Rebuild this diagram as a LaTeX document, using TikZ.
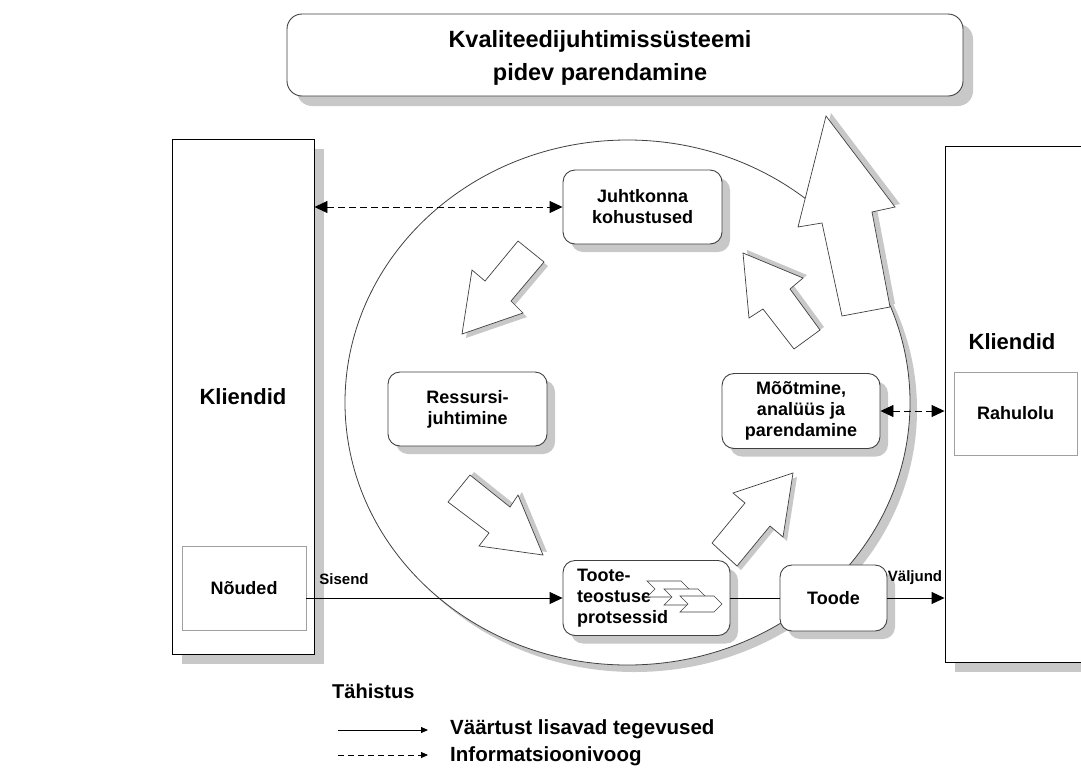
\documentclass[tikz,border=0pt]{standalone}
\usepackage{fontspec}
\setmainfont{Liberation Sans}
\usetikzlibrary{arrows.meta,shadows}
\definecolor{varjuhall}{RGB}{200,200,200}
\definecolor{joonhall}{RGB}{64,64,64}
\definecolor{raamhall}{RGB}{160,160,160}
\tikzset{
  tekst/.style={font=\bfseries\fontsize{18}{21}\selectfont},
  protsess/.style={tekst, draw=joonhall, fill=white, line width=0.9pt, rounded corners=12pt, align=center, minimum width=159pt, minimum height=74pt, inner sep=0pt, drop shadow={shadow xshift=8pt, shadow yshift=-8pt, fill=varjuhall, opacity=1}},
  klient/.style={draw=black, fill=white, line width=0.9pt, inner sep=0pt, font=\bfseries\fontsize{22}{26}\selectfont, drop shadow={shadow xshift=10pt, shadow yshift=-10pt, fill=varjuhall, opacity=1}},
  alamkast/.style={tekst, draw=raamhall, fill=white, line width=0.7pt, inner sep=0pt},
  vaartus/.style={line width=0.9pt, -{Triangle[length=13pt,width=12pt]}},
  info/.style={line width=0.9pt, dash pattern=on 7pt off 4pt, {Triangle[length=13pt,width=12pt]}-{Triangle[length=13pt,width=12pt]}},
  silt/.style={font=\bfseries\fontsize{15}{18}\selectfont, inner sep=0pt},
  legend/.style={font=\bfseries\fontsize{20.5}{24}\selectfont, inner sep=0pt, anchor=west},
}
\newcommand\plokknool[2]{%
  \fill[varjuhall, shift={#1}] #2 -- cycle;
  \draw[joonhall, fill=white, line width=0.7pt] #2 -- cycle;}
\newcommand\nooleke[1]{%
  \draw[joonhall, fill=white, line width=0.6pt, shift={#1}] (0,0) -- (34,0) -- (42,8) -- (34,16) -- (0,16) -- (8,8) -- cycle;}
\begin{document}
\begin{tikzpicture}[x=1pt, y=-1pt]
\useasboundingbox (0,0) rectangle (1081,769);
\clip (0,0) rectangle (1081,769);

\node[draw=joonhall, fill=white, line width=0.9pt, rounded corners=15pt, minimum width=676pt, minimum height=82pt, drop shadow={shadow xshift=10pt, shadow yshift=-10pt, fill=varjuhall, opacity=1}] (pealkiri) at (625,55) {};
\node[align=center, font=\bfseries\fontsize{23.5}{33}\selectfont] (pealkirjatekst) at (600,58) {Kvaliteedijuhtimissüsteemi\\pidev parendamine};

\fill[varjuhall] (634.5,409.5) ellipse [x radius=282.5, y radius=262.5];
\draw[joonhall, fill=white, line width=0.8pt] (627.5,402.5) ellipse [x radius=282.5, y radius=262.5];

\node[klient, minimum width=142pt, minimum height=515pt] (kliendidV) at (243,396.5) {Kliendid};
\node[alamkast, minimum width=124pt, minimum height=84pt] (noudmised) at (244,588) {Nõuded};
\node[klient, minimum width=155pt, minimum height=516pt] (kliendidP) at (1022.5,404) {};
\node[font=\bfseries\fontsize{22}{26}\selectfont] (kliendidPtekst) at (1012,342) {Kliendid};
\node[alamkast, minimum width=123pt, minimum height=83pt] (rahulolu) at (1015.5,413.5) {Rahulolu};

\plokknool{(4,4)}{(518,241) -- (544,262) -- (511,301) -- (523,313) -- (462,334) -- (472,270) -- (485,281)}
\plokknool{(4,-3)}{(470,475) -- (510,507) -- (518,495) -- (543,555) -- (479,546) -- (489,533) -- (448,502)}
\plokknool{(4,4)}{(793,473) -- (783,537) -- (770,526) -- (737,566) -- (712,543) -- (745,503) -- (733,493)}
\plokknool{(4,-3)}{(743,253) -- (803,278) -- (790,289) -- (820,330) -- (794,349) -- (763,309) -- (749,318)}
\plokknool{(5,-3)}{(826,116) -- (895,207) -- (872,212) -- (890,307) -- (842,316) -- (822,223) -- (798,227)}

\node[protsess] (juhtkond) at (642.5,207) {Juhtkonna\\kohustused};
\node[protsess] (ressurss) at (467.5,409) {Ressursi-\\juhtimine};
\node[protsess, minimum width=158pt, minimum height=75pt] (moot) at (801,411) {Mõõtmine,\\analüüs ja\\parendamine};
\node[protsess, minimum width=167pt, minimum height=75pt, align=left, text width=139pt, inner xsep=14pt] (teostus) at (646.5,598) {Toote-\\teostuse\\protsessid};
\node[protsess, minimum width=107pt, minimum height=66pt] (toode) at (833.5,598) {Toode};
\nooleke{(647,581)}
\nooleke{(664,589)}
\nooleke{(680,596)}

\draw[info] (kliendidV.east |- juhtkond.west) -- (juhtkond.west);
\draw[info] (moot.east) -- (moot.east -| kliendidP.west);
\draw[vaartus] (noudmised.east |- teostus.west) -- (teostus.west);
\draw[line width=0.9pt] (teostus.east) -- (toode.west);
\draw[vaartus] (toode.east) -- (toode.east -| kliendidP.west);
\node[silt] (sisend) at (344,579) {Sisend};
\node[silt] (valjund) at (915,578) {Väljund};

\node[legend, font=\bfseries\fontsize{20}{24}\selectfont] (tahistus) at (332,691) {Tähistus};
\node[legend] (vaartustekst) at (450,729) {Väärtust lisavad tegevused};
\node[legend] (infotekst) at (450,756) {Informatsioonivoog};
\coordinate (v1) at (338,730);
\coordinate (i1) at (338,755);
\draw[line width=0.8pt, -{Triangle[length=7pt,width=6pt]}] (v1) -- ([xshift=-22pt]vaartustekst.west |- v1);
\draw[line width=0.8pt, dash pattern=on 6pt off 4pt, -{Triangle[length=7pt,width=6pt]}] (i1) -- ([xshift=-22pt]infotekst.west |- i1);
\end{tikzpicture}
\end{document}
